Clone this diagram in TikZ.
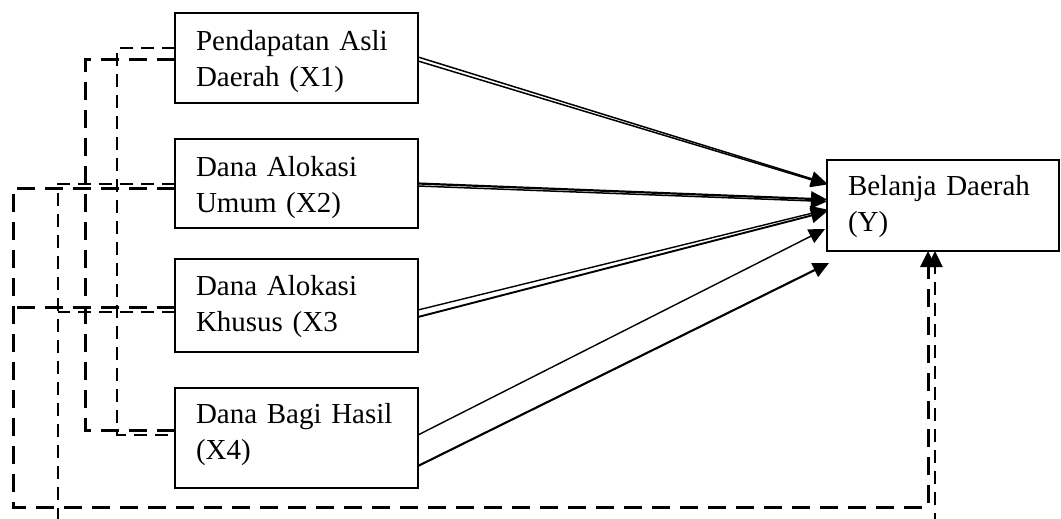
\documentclass[tikz,border=0pt]{standalone}
\usepackage{fontspec}
\setmainfont{Liberation Serif}
\usetikzlibrary{arrows.meta,calc}
\newcommand\tstrut[1]{\rule{0pt}{#1}}
\begin{document}
\begin{tikzpicture}[x=1pt,y=-1pt,
 box/.style={draw,line width=2.4pt,rectangle,anchor=north west,outer sep=0pt,inner xsep=21pt,inner ysep=0pt,align=left,font=\fontsize{29}{36}\selectfont},
 tip/.style={-{Triangle[length=16pt,width=15pt]}},
 arr/.style={tip,line width=1.8pt},
 dA/.style={line width=3pt,dash pattern=on 18pt off 10pt},
 dB/.style={line width=2.2pt,dash pattern=on 13pt off 8pt},
]
\useasboundingbox (0,0) rectangle (1061,519);

\node[box,minimum width=243pt,minimum height=90pt,text width=201pt] (x1) at (175,13) {\tstrut{28pt}Pendapatan Asli\\Daerah (X1)};
\node[box,minimum width=243pt,minimum height=89pt,text width=201pt] (x2) at (175,139) {\tstrut{29pt}Dana Alokasi\\Umum (X2)};
\node[box,minimum width=243pt,minimum height=93pt,text width=201pt] (x3) at (175,259) {\tstrut{23pt}Dana Alokasi\\Khusus (X3};
\node[box,minimum width=243pt,minimum height=100pt,text width=201pt] (x4) at (175,388) {Dana Bagi Hasil\\(X4)\rule[-12.5pt]{0pt}{1pt}};
\node[box,minimum width=232pt,minimum height=91pt,text width=190pt] (y) at (827,160) {\tstrut{23pt}Belanja Daerah\\(Y)};

% solid arrows
\draw[arr,line width=1.5pt] ($(x1.east)+(0,-1)$) -- ($(y.west)+(0,-22)$);
\draw[arr,line width=1.5pt] ($(x1.east)+(0,3)$) -- ($(y.west)+(0,-21)$);
\draw[arr,line width=2.2pt] ($(x2.east)+(0,0)$) -- ($(y.west)+(0,-6)$);
\draw[arr,line width=1.5pt] ($(x2.east)+(0,2.5)$) -- ($(y.west)+(0,-4)$);
\draw[arr,line width=1.4pt] ($(x3.east)+(0,4.5)$) -- ($(y.west)+(0,4)$);
\draw[arr,line width=1.9pt] ($(x3.east)+(0,11.5)$) -- ($(y.west)+(0,6)$);
\draw[arr,line width=1.4pt] ($(x4.east)+(0,-3)$) -- ($(y.west)+(-2,23.5)$);
\draw[arr,line width=2.1pt] ($(x4.east)+(0,28)$) -- ($(y.west)+(2,57.5)$);

% dashed connectors
\coordinate (bl) at (13,507);
\coordinate (bl2) at (58,530);
\draw[dA,tip] ($(x2.west)+(0,4.5)$) -| (bl) -| ($(y.south)+(-15,0)$);
\draw[dB,tip] ($(x2.west)+(0,0.5)$) -| (bl2) -| ($(y.south)+(-8,0)$);
\draw[dA] ($(x3.west)+(0,1.5)$) coordinate (x3a) -- (x3a -| bl);
\draw[dB] ($(x3.west)+(0,6.5)$) coordinate (x3b) -- (x3b -| bl2);
\draw[dA] ($(x1.west)+(0,2)$) -| ($(x4.west)+(-90,-8)$) -- ($(x4.west)+(0,-8)$);
\draw[dB] ($(x1.west)+(0,-10)$) -| ($(x4.west)+(-58,-3)$) -- ($(x4.west)+(0,-3)$);
\end{tikzpicture}
\end{document}
